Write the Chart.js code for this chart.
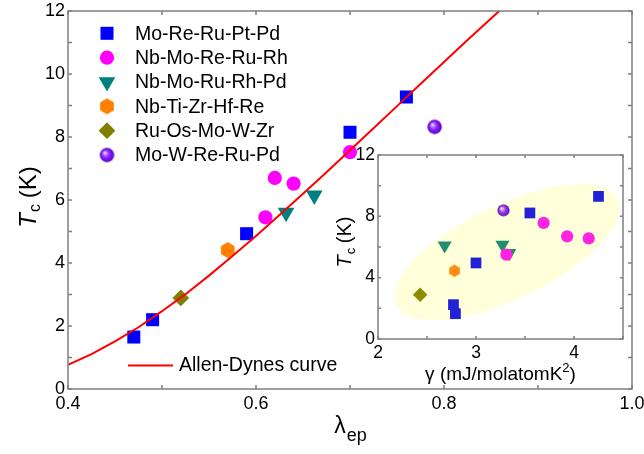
<!DOCTYPE html>
<html>
<head>
<meta charset="utf-8">
<script src="https://cdn.jsdelivr.net/npm/chart.js@4.4.1/dist/chart.umd.min.js"></script>
<style>
  body { margin: 0; background: #fff; }
  #wrap { position: relative; width: 644px; height: 454px; }
  canvas { position: absolute; }
  #inset { left: 330px; top: 140px; }
</style>
</head>
<body>
<div id="wrap">
  <canvas id="main" width="644" height="454"></canvas>
  <canvas id="inset" width="314" height="260"></canvas>
</div>
<script>
// main panel: Tc vs lambda_ep
const lamMoRePtPd = [0.47, 0.49, 0.59, 0.70, 0.76];
const tcMoRePtPd = [1.65, 2.2, 4.93, 8.15, 9.27];
const lamNbMoReRuRh = [0.61, 0.62, 0.64, 0.70];
const tcNbMoReRuRh = [5.45, 6.7, 6.52, 7.52];
const lamNbMoRuRhPd = [0.632, 0.662];
const tcNbMoRuRhPd = [5.6, 6.15];
const lamNbTiZrHfRe = [0.57];
const tcNbTiZrHfRe = [4.41];
const lamRuOsMoWZr = [0.52];
const tcRuOsMoWZr = [2.89];
const lamMoWReRuPd = [0.79];
const tcMoWReRuPd = [8.32];

// Allen-Dynes curve
const lamAD = [0.40, 0.425, 0.45, 0.475, 0.50, 0.525, 0.55, 0.575, 0.60, 0.625, 0.65, 0.675, 0.70, 0.725, 0.75, 0.775, 0.80, 0.825, 0.85, 0.875];
const tcAD = [0.77, 1.11, 1.51, 1.96, 2.47, 3.01, 3.60, 4.22, 4.86, 5.52, 6.20, 6.88, 7.58, 8.28, 8.98, 9.68, 10.38, 11.08, 11.76, 12.44];

// inset: Tc vs gamma
const gamMoRePtPd = [2.79, 2.77, 3.0, 3.55, 4.25];
const tcInMoRePtPd = [1.65, 2.24, 4.96, 8.22, 9.3];
const gamNbMoReRuRh = [3.31, 3.93, 4.15, 3.69];
const tcInNbMoReRuRh = [5.5, 6.69, 6.56, 7.57];
const gamNbMoRuRhPd = [2.68, 3.27, 3.34];
const tcInNbMoRuRhPd = [6.1, 6.15, 5.6];
const gamNbTiZrHfRe = [2.78];
const tcInNbTiZrHfRe = [4.45];
const gamRuOsMoWZr = [2.43];
const tcInRuOsMoWZr = [2.89];
const gamMoWReRuPd = [3.28];
const tcInMoWReRuPd = [8.39];

const mainXTicks = [0.4, 0.6, 0.8, 1.0];
const mainYTicks = [0, 2, 4, 6, 8, 10, 12];
const mainXMarks = [0.4, 0.5, 0.6, 0.7, 0.8, 0.9, 1.0];
const mainYMarks = [0, 1, 2, 3, 4, 5, 6, 7, 8, 9, 10, 11, 12];
const insetXTicks = [2, 3, 4];
const insetYTicks = [0, 4, 8, 12];
const insetXMarks = [2, 2.5, 3, 3.5, 4, 4.5];
const insetYMarks = [0, 2, 4, 6, 8, 10, 12];

const seriesNames = ['Mo-Re-Ru-Pt-Pd', 'Nb-Mo-Re-Ru-Rh', 'Nb-Mo-Ru-Rh-Pd', 'Nb-Ti-Zr-Hf-Re', 'Ru-Os-Mo-W-Zr', 'Mo-W-Re-Ru-Pd'];

const FONT = 'Liberation Sans, Arial, sans-serif';
Chart.defaults.font.family = FONT;
Chart.defaults.color = '#000';

const pts = (xs, ys) => xs.map((x, i) => ({ x: x, y: ys[i] }));

function hexagon(r, color) {
  const cv = document.createElement('canvas');
  cv.width = Math.ceil(r * 2) + 2; cv.height = Math.ceil(r * 2) + 2;
  const g = cv.getContext('2d');
  const c = cv.width / 2;
  g.beginPath();
  for (let k = 0; k < 6; k++) {
    const a = -Math.PI / 2 + k * Math.PI / 3;
    g.lineTo(c + r * Math.cos(a), c + r * Math.sin(a));
  }
  g.closePath();
  g.fillStyle = color;
  g.fill();
  return cv;
}

function sphere(r, light, mid, dark) {
  const cv = document.createElement('canvas');
  cv.width = Math.ceil(r * 2) + 2; cv.height = Math.ceil(r * 2) + 2;
  const g = cv.getContext('2d');
  const c = cv.width / 2;
  const grd = g.createRadialGradient(c - r * 0.35, c - r * 0.35, 0, c, c, r);
  grd.addColorStop(0, '#ffffff');
  grd.addColorStop(0.22, light);
  grd.addColorStop(0.55, mid);
  grd.addColorStop(1, dark);
  g.beginPath();
  g.arc(c, c, r, 0, Math.PI * 2);
  g.fillStyle = grd;
  g.fill();
  return cv;
}

function markerSet(color, style, radius, rotation) {
  return {
    pointStyle: style,
    pointRadius: radius,
    pointHoverRadius: radius,
    pointRotation: rotation || 0,
    pointBackgroundColor: color,
    pointBorderWidth: 0,
    backgroundColor: color,
    borderColor: color,
    showLine: false
  };
}

const mainStyles = [
  markerSet('#0000ff', 'rect', 9.2),
  markerSet('#ff00ff', 'circle', 7.1),
  markerSet('#008080', 'triangle', 9.6, 180),
  markerSet('#ff8000', hexagon(7.9, '#ff8000'), 7.9),
  markerSet('#808000', 'rectRot', 8.4),
  markerSet('#8000ff', sphere(7.2, '#c090ff', '#8a1cff', '#5a00c8'), 7.2)
];
const insetStyles = [
  markerSet('#2222d6', 'rect', 7.6),
  markerSet('#ff22e0', 'circle', 6.1),
  markerSet('#228c6c', 'triangle', 8.1, 180),
  markerSet('#ff8c10', hexagon(6.2, '#ff8c10'), 6.2),
  markerSet('#8c8c00', 'rectRot', 7.3),
  markerSet('#9030e0', sphere(6.1, '#d0a8f4', '#9438e4', '#6a10b8'), 6.1)
];

const mainSeries = [
  pts(lamMoRePtPd, tcMoRePtPd), pts(lamNbMoReRuRh, tcNbMoReRuRh), pts(lamNbMoRuRhPd, tcNbMoRuRhPd),
  pts(lamNbTiZrHfRe, tcNbTiZrHfRe), pts(lamRuOsMoWZr, tcRuOsMoWZr), pts(lamMoWReRuPd, tcMoWReRuPd)
];
const insetSeries = [
  pts(gamMoRePtPd, tcInMoRePtPd), pts(gamNbMoReRuRh, tcInNbMoReRuRh), pts(gamNbMoRuRhPd, tcInNbMoRuRhPd),
  pts(gamNbTiZrHfRe, tcInNbTiZrHfRe), pts(gamRuOsMoWZr, tcInRuOsMoWZr), pts(gamMoWReRuPd, tcInMoWReRuPd)
];

function frameAndTicks(chart, xMarks, yMarks, len) {
  const ctx = chart.ctx, a = chart.chartArea, xs = chart.scales.x, ys = chart.scales.y;
  ctx.save();
  ctx.strokeStyle = '#808080';
  ctx.lineWidth = 1.5;
  ctx.strokeRect(a.left, a.top, a.right - a.left, a.bottom - a.top);
  ctx.beginPath();
  xMarks.forEach(v => {
    const p = xs.getPixelForValue(v);
    ctx.moveTo(p, a.bottom); ctx.lineTo(p, a.bottom - len);
    ctx.moveTo(p, a.top); ctx.lineTo(p, a.top + len);
  });
  yMarks.forEach(v => {
    const p = ys.getPixelForValue(v);
    ctx.moveTo(a.left, p); ctx.lineTo(a.left + len, p);
    ctx.moveTo(a.right, p); ctx.lineTo(a.right - len, p);
  });
  ctx.stroke();
  ctx.restore();
}

// rotated "Tc (K)" title
function tcTitle(ctx, x, y, size) {
  ctx.save();
  ctx.translate(x, y);
  ctx.rotate(-Math.PI / 2);
  ctx.fillStyle = '#000';
  ctx.textBaseline = 'alphabetic';
  const fT = 'italic ' + size + 'px ' + FONT;
  const fc = Math.round(size * 0.66) + 'px ' + FONT;
  const fK = size + 'px ' + FONT;
  ctx.font = fT; const wT = ctx.measureText('T').width;
  ctx.font = fc; const wc = ctx.measureText('c').width;
  ctx.font = fK; const wK = ctx.measureText(' (K)').width;
  let p = -(wT + wc + wK) / 2;
  ctx.font = fT; ctx.fillText('T', p, 0); p += wT + 1;
  ctx.font = fc; ctx.fillText('c', p, size * 0.18); p += wc - 1;
  ctx.font = fK; ctx.fillText(' (K)', p, 0);
  ctx.restore();
}

function drawMarker(ctx, st, x, y) {
  ctx.save();
  ctx.fillStyle = st.pointBackgroundColor;
  ctx.strokeStyle = st.pointBackgroundColor;
  Chart.helpers.drawPoint(ctx, { pointStyle: st.pointStyle, radius: st.pointRadius, rotation: st.pointRotation, borderWidth: 0 }, x, y);
  ctx.restore();
}

const mainDecor = {
  id: 'mainDecor',
  afterDraw(chart) {
    const ctx = chart.ctx;
    frameAndTicks(chart, mainXMarks, mainYMarks, 4);
    // legend of the samples
    ctx.save();
    ctx.font = '19.5px ' + FONT;
    ctx.fillStyle = '#000';
    ctx.textBaseline = 'middle';
    seriesNames.forEach((n, i) => {
      const y = 33.3 + i * 24.35;
      drawMarker(ctx, mainStyles[i], 107, y);
      ctx.fillStyle = '#000';
      ctx.fillText(n, 135, y + 1);
    });
    // curve legend
    ctx.strokeStyle = '#ff0000';
    ctx.lineWidth = 2;
    ctx.beginPath(); ctx.moveTo(128, 365.5); ctx.lineTo(173, 365.5); ctx.stroke();
    ctx.fillText('Allen-Dynes curve', 179, 366);
    // x title
    ctx.textBaseline = 'alphabetic';
    ctx.font = '23px ' + FONT;
    const wl = ctx.measureText('\u03bb').width;
    ctx.font = '18px ' + FONT;
    const we = ctx.measureText('ep').width;
    const cx = (chart.chartArea.left + chart.chartArea.right) / 2;
    let p = cx - (wl + we) / 2;
    ctx.font = '23px ' + FONT; ctx.fillText('\u03bb', p, 433);
    ctx.font = '18px ' + FONT; ctx.fillText('ep', p + wl + 1, 441);
    ctx.restore();
    tcTitle(ctx, 36, 197, 24);
  }
};

const fixBox = (w, h) => s => {
  if (w !== undefined) s.width = w;
  if (h !== undefined) s.height = h;
  s.paddingLeft = 0; s.paddingRight = 0; s.paddingTop = 0; s.paddingBottom = 0;
};

const mainDatasets = [{
  label: 'Allen-Dynes curve',
  data: pts(lamAD, tcAD),
  showLine: true,
  borderColor: '#ff0000',
  borderWidth: 2,
  pointRadius: 0,
  pointHoverRadius: 0,
  tension: 0
}].concat(seriesNames.map((n, i) => Object.assign({ label: n, data: mainSeries[i] }, mainStyles[i])));

new Chart(document.getElementById('main'), {
  type: 'scatter',
  data: { datasets: mainDatasets },
  options: {
    responsive: false,
    animation: false,
    events: [],
    layout: { padding: { top: 11, right: 12, left: 0, bottom: 0 } },
    plugins: { legend: { display: false }, tooltip: { enabled: false } },
    scales: {
      x: {
        type: 'linear', min: 0.4, max: 1.0,
        grid: { display: false, drawTicks: false },
        border: { display: false },
        afterBuildTicks: s => { s.ticks = mainXTicks.map(v => ({ value: v })); },
        afterFit: fixBox(undefined, 65),
        ticks: { padding: 4, font: { size: 18 }, maxRotation: 0, callback: v => v.toFixed(1) }
      },
      y: {
        type: 'linear', min: 0, max: 12,
        grid: { display: false, drawTicks: false },
        border: { display: false },
        afterBuildTicks: s => { s.ticks = mainYTicks.map(v => ({ value: v })); },
        afterFit: fixBox(68, undefined),
        ticks: { padding: 3, font: { size: 18 }, callback: v => String(v) }
      }
    }
  },
  plugins: [mainDecor]
});

// inset
const insetEllipse = { gx: 3.318, tc: 5.66 };
const insetDecor = {
  id: 'insetDecor',
  beforeDatasetsDraw(chart) {
    const ctx = chart.ctx, xs = chart.scales.x, ys = chart.scales.y;
    ctx.save();
    ctx.beginPath();
    ctx.ellipse(xs.getPixelForValue(insetEllipse.gx), ys.getPixelForValue(insetEllipse.tc), 123, 47, -25.6 * Math.PI / 180, 0, Math.PI * 2);
    ctx.fillStyle = '#ffffda';
    ctx.fill();
    ctx.restore();
  },
  afterDraw(chart) {
    const ctx = chart.ctx;
    frameAndTicks(chart, insetXMarks, insetYMarks, 3);
    tcTitle(ctx, 21, 102, 20);
    // x title
    ctx.save();
    ctx.fillStyle = '#000';
    ctx.textBaseline = 'alphabetic';
    const f = '19px ' + FONT, fs = '13px ' + FONT;
    ctx.font = f; const w1 = ctx.measureText('\u03b3 (mJ/molatomK').width;
    ctx.font = fs; const w2 = ctx.measureText('2').width;
    ctx.font = f; const w3 = ctx.measureText(')').width;
    const cx = (chart.chartArea.left + chart.chartArea.right) / 2;
    let p = cx - (w1 + w2 + w3) / 2;
    ctx.font = f; ctx.fillText('\u03b3 (mJ/molatomK', p, 240); p += w1;
    ctx.font = fs; ctx.fillText('2', p, 232); p += w2;
    ctx.font = f; ctx.fillText(')', p, 240);
    ctx.restore();
  }
};

new Chart(document.getElementById('inset'), {
  type: 'scatter',
  data: { datasets: seriesNames.map((n, i) => Object.assign({ label: n, data: insetSeries[i] }, insetStyles[i])) },
  options: {
    responsive: false,
    animation: false,
    events: [],
    layout: { padding: { top: 15, right: 21, left: 0, bottom: 0 } },
    plugins: { legend: { display: false }, tooltip: { enabled: false } },
    scales: {
      x: {
        type: 'linear', min: 2, max: 4.5,
        grid: { display: false, drawTicks: false },
        border: { display: false },
        afterBuildTicks: s => { s.ticks = insetXTicks.map(v => ({ value: v })); },
        afterFit: fixBox(undefined, 61),
        ticks: { padding: 4, font: { size: 17.5 }, maxRotation: 0, callback: v => String(v) }
      },
      y: {
        type: 'linear', min: 0, max: 12,
        grid: { display: false, drawTicks: false },
        border: { display: false },
        afterBuildTicks: s => { s.ticks = insetYTicks.map(v => ({ value: v })); },
        afterFit: fixBox(48, undefined),
        ticks: { padding: 3, font: { size: 17.5 }, callback: v => String(v) }
      }
    }
  },
  plugins: [insetDecor]
});
</script>
</body>
</html>
